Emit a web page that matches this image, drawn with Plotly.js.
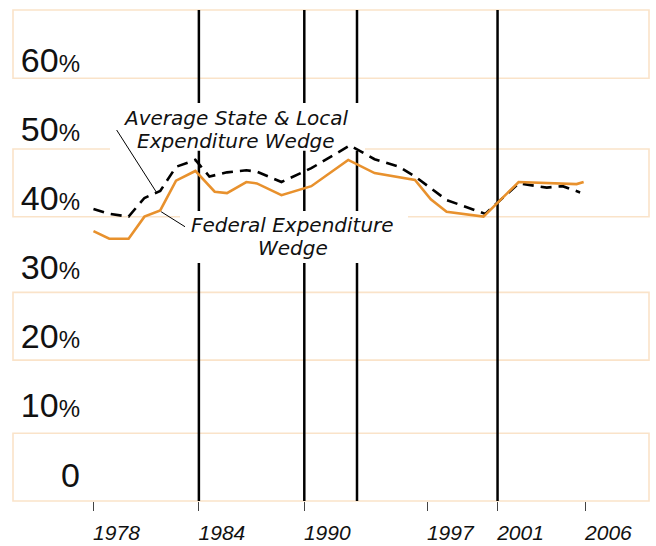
<!DOCTYPE html>
<html>
<head>
<meta charset="utf-8">
<script src="https://cdn.plot.ly/plotly-3.0.1.min.js"></script>
<style>html,body{margin:0;padding:0;background:#fff;}#chart{width:656px;height:546px;}</style>
</head>
<body>
<div id="chart"></div>
<script>
// Federal Expenditure Wedge (percent)
const fedYears = [1978.0, 1978.9, 1980.0, 1980.9, 1981.8, 1982.7, 1983.8, 1984.9, 1985.6, 1986.7, 1987.3, 1988.7, 1990.4, 1992.5, 1994.0, 1996.3, 1997.2, 1998.1, 2000.2, 2002.2, 2005.5, 2005.9];
const fedWedge = [35.5, 34.4, 34.4, 37.6, 38.5, 42.8, 44.2, 41.2, 41.0, 42.6, 42.4, 40.7, 42.0, 45.8, 43.9, 42.9, 40.1, 38.3, 37.6, 42.6, 42.3, 42.6];

// Average State & Local Expenditure Wedge (percent)
const slYears = [1978.0, 1978.9, 1980.0, 1980.9, 1981.8, 1982.7, 1983.8, 1984.6, 1985.6, 1986.7, 1987.3, 1988.7, 1990.4, 1992.6, 1994.0, 1995.4, 1996.3, 1997.2, 1998.1, 2000.3, 2002.2, 2003.8, 2004.7, 2005.7];
const slWedge = [38.7, 38.0, 37.6, 40.3, 41.3, 44.8, 45.8, 43.4, 44.0, 44.3, 44.1, 42.6, 44.6, 47.9, 45.9, 44.8, 43.4, 41.7, 40.0, 38.0, 42.4, 41.8, 42.0, 41.1];

// Event years marked with vertical lines
const eventYears = [1984, 1990, 1993, 2001];

// Axis ticks
const xTickYears = [1978, 1984, 1990, 1997, 2001, 2006];
const xTickLabels = ['1978', '1984', '1990', '1997', '2001', '2006'];
const yTickValues = [0, 10, 20, 30, 40, 50, 60];
const yTickLabels = ['0', '10', '20', '30', '40', '50', '60'];

const orange = '#E8912D';
const bandColor = '#FAE3C9';

const yText = yTickLabels.map((t, i) => i === 0 ? t : t + '<span style="font-size:24px">%</span>');

const traces = [
  {
    x: slYears, y: slWedge, type: 'scatter', mode: 'lines',
    line: {color: '#000', width: 2.6, dash: '11px,7px'},
    hoverinfo: 'skip'
  },
  {
    x: fedYears, y: fedWedge, type: 'scatter', mode: 'lines',
    line: {color: orange, width: 2.6},
    hoverinfo: 'skip'
  }
];

const shapes = [];
// alternating bands
[[0.861, 1.0], [0.579, 0.717], [0.287, 0.425], [0.0, 0.138]].forEach(b => {
  shapes.push({type: 'rect', xref: 'paper', yref: 'paper', x0: 0, x1: 1, y0: b[0], y1: b[1],
    line: {color: bandColor, width: 1.6}, fillcolor: 'rgba(0,0,0,0)', layer: 'below'});
});
// event lines
eventYears.forEach(yr => {
  shapes.push({type: 'line', xref: 'x', yref: 'paper', x0: yr, x1: yr, y0: 0, y1: 1,
    line: {color: '#000', width: 2.5}, layer: 'below'});
});
// white label boxes
shapes.push({type: 'rect', xref: 'paper', yref: 'paper', x0: 0.1525, x1: 0.5535, y0: 0.7135, y1: 0.8106,
  line: {width: 0}, fillcolor: '#fff', layer: 'below'});
shapes.push({type: 'rect', xref: 'paper', yref: 'paper', x0: 0.2626, x1: 0.6211, y0: 0.4847, y1: 0.5906,
  line: {width: 0}, fillcolor: '#fff', layer: 'below'});
// leader lines
shapes.push({type: 'line', xref: 'x', yref: 'y', x0: 1979.32, y0: 50.12, x1: 1981.6, y1: 41.06,
  line: {color: '#000', width: 1}, layer: 'below'});
shapes.push({type: 'line', xref: 'x', yref: 'y', x0: 1981.85, y0: 38.31, x1: 1983.21, y1: 36.14,
  line: {color: '#000', width: 1}, layer: 'below'});

const annFont = {family: 'DejaVu Sans, sans-serif', size: 20, color: '#111', style: 'italic'};
const annotations = [
  {text: 'Average State &amp; Local', x: 0.351, y: 0.780},
  {text: 'Expenditure Wedge', x: 0.351, y: 0.733},
  {text: 'Federal Expenditure', x: 0.4395, y: 0.5625},
  {text: 'Wedge', x: 0.4395, y: 0.515}
].map(a => Object.assign({xref: 'paper', yref: 'paper', showarrow: false, xanchor: 'center', yanchor: 'middle', font: annFont}, a));

const layout = {
  width: 656, height: 546,
  margin: {l: 13, r: 7, t: 10, b: 45},
  paper_bgcolor: '#fff', plot_bgcolor: '#fff',
  showlegend: false,
  xaxis: {
    range: [1973.42, 2009.62],
    tickvals: xTickYears, ticktext: xTickLabels,
    ticks: 'outside', ticklen: 9, tickwidth: 1, tickcolor: '#444',
    tickfont: {family: 'Liberation Sans, Arial, sans-serif', size: 21, color: '#111', style: 'italic'},
    ticklabelshift: 23, ticklabelstandoff: 4,
    showgrid: false, zeroline: false, showline: false, fixedrange: true
  },
  yaxis: {
    range: [-3.51, 67.47],
    anchor: 'free', position: 0.1053,
    tickvals: yTickValues, ticktext: yText,
    ticks: '', ticklabelshift: -2,
    tickfont: {family: 'Liberation Sans, Arial, sans-serif', size: 34, color: '#111'},
    showgrid: false, zeroline: false, showline: false, fixedrange: true
  },
  shapes: shapes,
  annotations: annotations
};

Plotly.newPlot('chart', traces, layout, {displayModeBar: false, staticPlot: true});
</script>
</body>
</html>
